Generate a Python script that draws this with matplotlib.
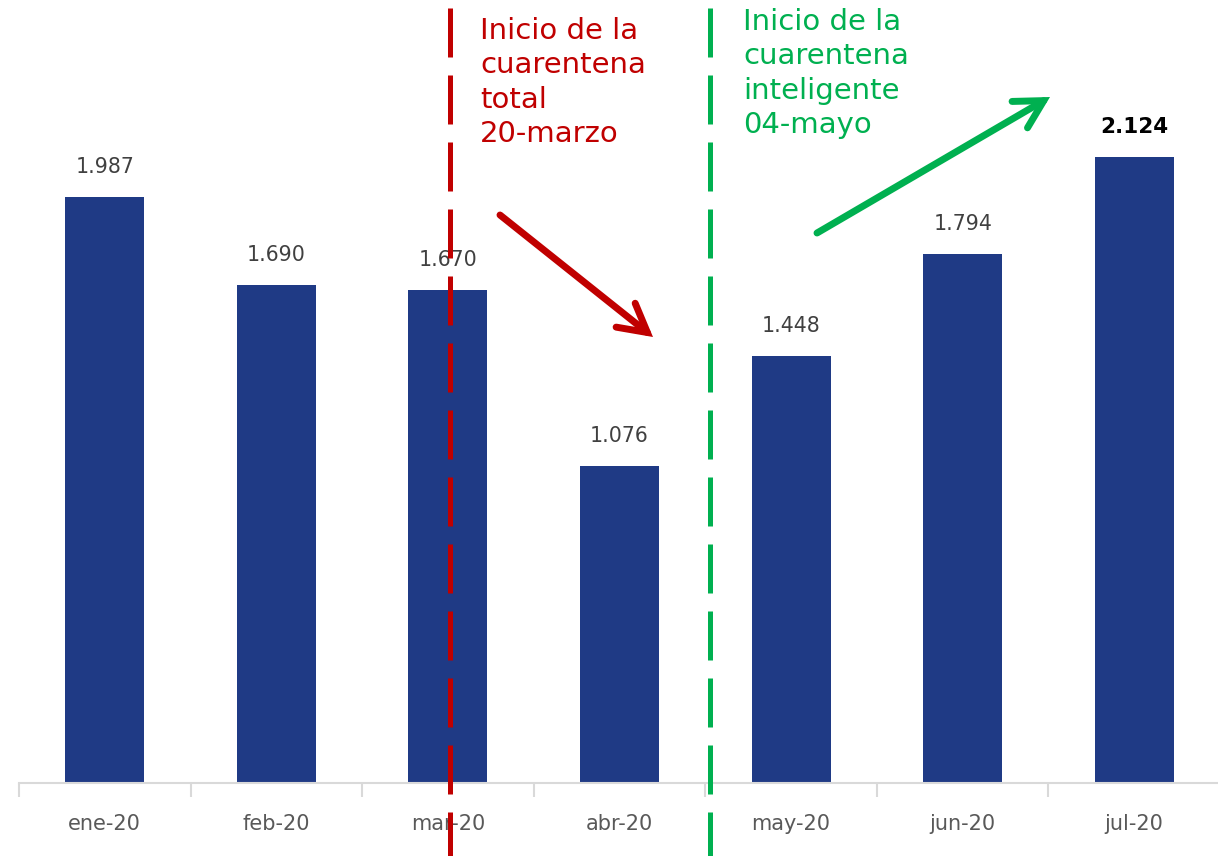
import matplotlib
matplotlib.use("Agg")
import matplotlib.pyplot as plt

months = ["ene-20", "feb-20", "mar-20", "abr-20", "may-20", "jun-20", "jul-20"]
values = [1987, 1690, 1670, 1076, 1448, 1794, 2124]
labels = ["1.987", "1.690", "1.670", "1.076", "1.448", "1.794", "2.124"]

red_text = "Inicio de la\ncuarentena\ntotal\n20-marzo"
green_text = "Inicio de la\ncuarentena\ninteligente\n04-mayo"

plt.rcParams['font.family'] = ['DejaVu Sans']

W, H = 1218, 856
fig = plt.figure(figsize=(W/100, H/100), dpi=100)
ax = fig.add_axes([19/W, 1-783/H, 1201/W, 783/H])

bar_color = '#1F3A85'
x = list(range(len(months)))
ax.bar(x, values, width=0.46, color=bar_color, zorder=2)
ax.set_xlim(-0.5, 6.5)
ax.set_ylim(0, 2655)

for i, (v, lab) in enumerate(zip(values, labels)):
    bold = (i == len(values) - 1)
    ax.annotate(lab, (i, v), xytext=(0, 20), textcoords='offset pixels',
                ha='center', va='bottom', fontsize=15.5 if bold else 14.8,
                color='black' if bold else '#404040',
                fontweight='bold' if bold else 'normal')

for s in ['top', 'right', 'left']:
    ax.spines[s].set_visible(False)
ax.spines['bottom'].set_color('#D9D9D9')
ax.spines['bottom'].set_linewidth(1.5)
ax.set_yticks([])
ax.set_xticks([i - 0.5 for i in range(len(months) + 1)])
ax.set_xticklabels([])
ax.set_xticks(x, minor=True)
ax.set_xticklabels(months, minor=True)
ax.tick_params(axis='x', which='major', length=10, width=1.5, color='#D9D9D9')
ax.tick_params(axis='x', which='minor', length=0, pad=22, labelsize=15, labelcolor='#595959')

red = '#C00000'
green = '#00B050'
trans = ax.get_xaxis_transform()
# vertical dashed lines, drawn from the top down so the dash pattern starts at the top
for xv, col in [(2.01, red), (3.53, green)]:
    ax.plot([xv, xv], [1 - 8/783, -73/783], transform=trans, color=col,
            linewidth=3.6, dashes=(9.8, 3.6), clip_on=False, zorder=3,
            solid_capstyle='butt', dash_capstyle='butt')

ax.text(480/W, 1-17/H, red_text, transform=fig.transFigure, ha='left', va='top',
        fontsize=21, color=red, linespacing=1.29)
ax.text(743/W, 1-8/H, green_text, transform=fig.transFigure, ha='left', va='top',
        fontsize=21, color=green, linespacing=1.29)

# arrows
for (x0, y0, x1, y1, col) in [(500, 215, 653, 337, red), (817, 233, 1050, 97, green)]:
    ax.annotate('', xy=(x1/W, 1-y1/H), xytext=(x0/W, 1-y0/H), xycoords='figure fraction',
                arrowprops=dict(arrowstyle='->,head_length=2.0,head_width=1.1', color=col,
                                lw=5, shrinkA=0, shrinkB=0, capstyle='round',
                                joinstyle='miter'))

fig.savefig('out.png', dpi=100)
